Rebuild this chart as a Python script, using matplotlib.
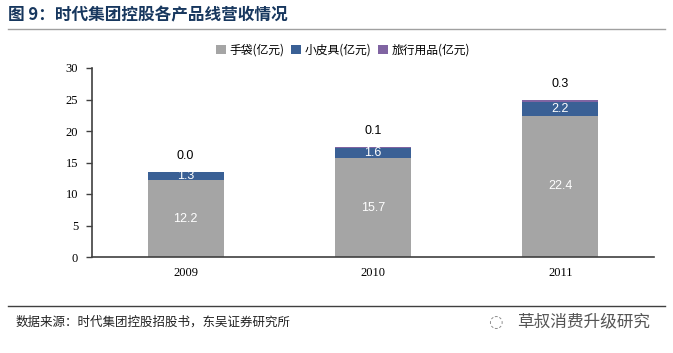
import numpy as np
import matplotlib.pyplot as plt

plt.rcParams['font.family'] = ['Noto Sans CJK SC', 'DejaVu Sans']

years = ['2009', '2010', '2011']
handbag = [12.2, 15.7, 22.4]
leather = [1.3, 1.6, 2.2]
travel = [0.0, 0.1, 0.3]
series_names = ['手袋(亿元)', '小皮具(亿元)', '旅行用品(亿元)']
colors = ['#A5A5A5', '#3A6095', '#8064A2']

fig = plt.figure(figsize=(6.73, 3.53), dpi=100)
W, H = 673, 353
ax = fig.add_axes([92 / W, 1 - 257 / H, (654 - 92) / W, (257 - 68) / H])

x = np.arange(len(years))
w = 0.405
b1 = ax.bar(x, handbag, w, color=colors[0], label=series_names[0])
b2 = ax.bar(x, leather, w, bottom=handbag, color=colors[1], label=series_names[1])
bottom3 = np.array(handbag) + np.array(leather)
b3 = ax.bar(x, travel, w, bottom=bottom3, color=colors[2], label=series_names[2])

for i in range(len(years)):
    ax.text(x[i], handbag[i] / 2, f'{handbag[i]:.1f}', ha='center', va='center',
            color='white', fontsize=9, family='Liberation Sans')
    ax.text(x[i], handbag[i] + leather[i] / 2, f'{leather[i]:.1f}', ha='center', va='center',
            color='white', fontsize=9, family='Liberation Sans')
    ax.text(x[i], bottom3[i] + travel[i] + 2.6, f'{travel[i]:.1f}', ha='center', va='center',
            color='black', fontsize=9, family='Liberation Sans')

ax.set_xlim(-0.5, 2.5)
ax.set_ylim(0, 30)
ax.set_yticks(range(0, 31, 5))
ax.set_xticks(x)
ax.set_xticklabels(years)
for lab in ax.get_xticklabels() + ax.get_yticklabels():
    lab.set_family('Liberation Serif')
    lab.set_fontsize(9)
ax.tick_params(axis='x', length=0, pad=7)
ax.tick_params(axis='y', length=4, color='#404040', width=1, pad=6)
for s in ['top', 'right']:
    ax.spines[s].set_visible(False)
for s in ['left', 'bottom']:
    ax.spines[s].set_color('#404040')
    ax.spines[s].set_linewidth(1.2)

leg = fig.legend(handles=[b1, b2, b3], loc='center', bbox_to_anchor=(343 / W, 1 - 50 / H),
                 ncol=3, frameon=False, fontsize=8.5, handlelength=0.8, handleheight=0.8,
                 handletextpad=0.3, columnspacing=0.6)

fig.text(8 / W, 1 - 15 / H, '图 9：时代集团控股各产品线营收情况', fontsize=12,
         fontweight='bold', color='#17375E', va='center')
fig.add_artist(plt.Line2D([8 / W, 665 / W], [1 - 29 / H, 1 - 29 / H], color='#A0A0A0', lw=1))
fig.add_artist(plt.Line2D([8 / W, 665 / W], [1 - 306 / H, 1 - 306 / H], color='#404040', lw=1))
fig.text(16 / W, 1 - 322 / H, '数据来源：时代集团控股招股书，东吴证券研究所', fontsize=9,
         color='#222222', va='center')
fig.text(650 / W, 1 - 322 / H, '草叔消费升级研究', fontsize=12, color='#555555',
         va='center', ha='right')
fig.text(495 / W, 1 - 322 / H, '◌', fontsize=12, color='#888888', va='center', ha='center',
         family=['DejaVu Sans'])

fig.savefig('out.png', dpi=100)
